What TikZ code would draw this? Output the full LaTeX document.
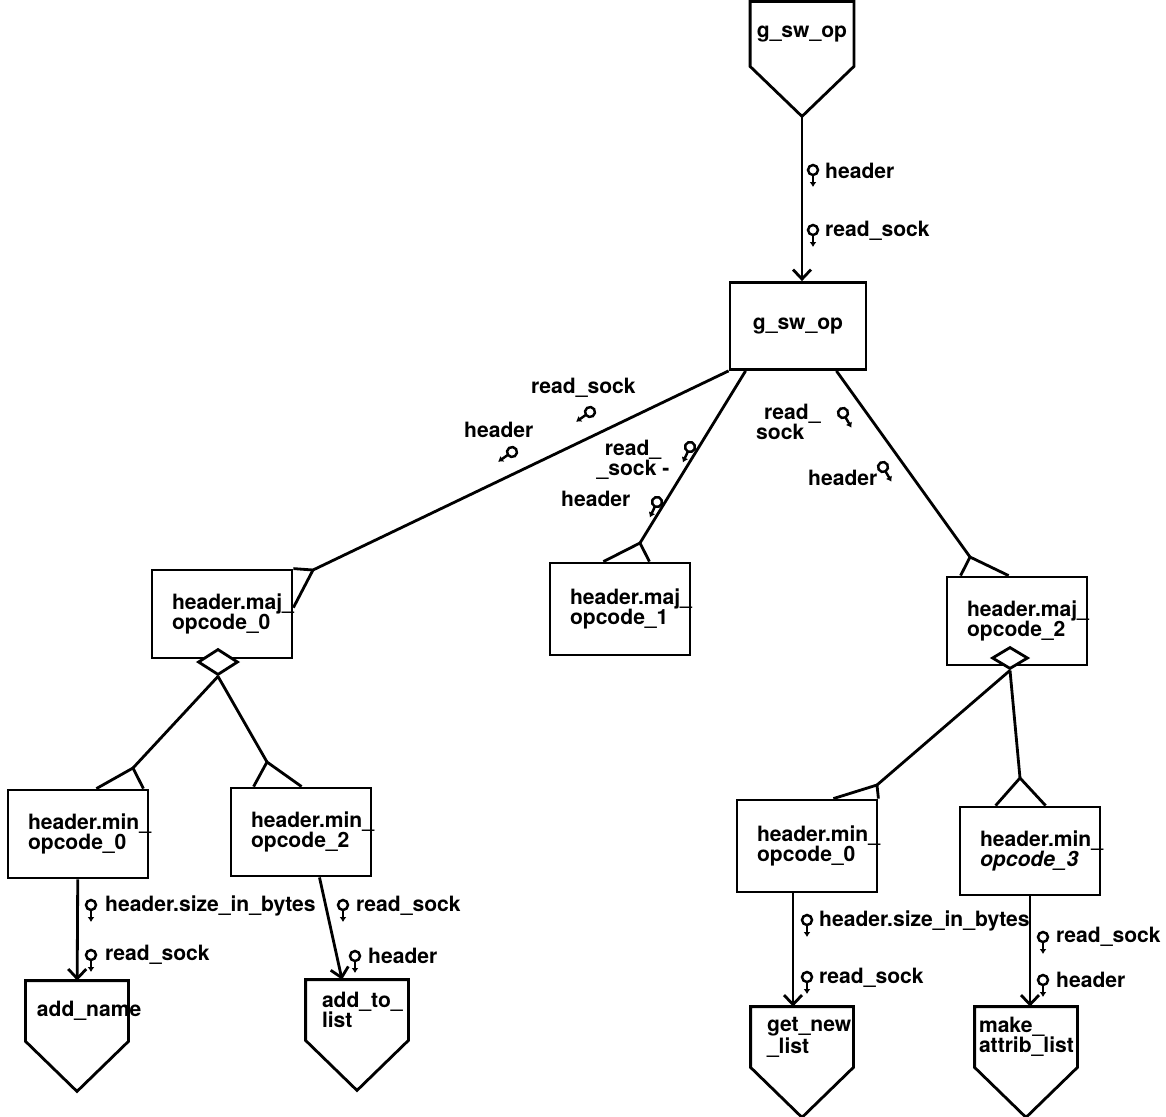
\documentclass[tikz,border=0pt]{standalone}
\usepackage{fontspec}
\setmainfont{TeX Gyre Heros}
\usetikzlibrary{arrows.meta, shapes.geometric, calc}

\tikzset{
  couple/.pic={
    \draw[line width=1.4pt] (0pt,0pt) circle[radius=0.1cm];
    \draw[line width=1.4pt, -{Latex[length=1mm,width=1.4mm]}] (0pt,-0.1cm) -- (0pt,-0.34cm);
  }
}
% off-page connector drawn round a named node
\newcommand{\offpage}[1]{%
  \draw (#1.south west) -- (#1.north west) -- (#1.north east) -- (#1.south east)
        -- ([yshift=-1.0cm]#1.south) coordinate (#1-tip) -- cycle;
}

\begin{document}
\begin{tikzpicture}[
  x=0.2mm, y=-0.2mm,
  line width=1.6pt,
  every node/.style={font=\bfseries\fontsize{12}{11.5}\selectfont},
  modbox/.style={draw, rectangle, minimum height=1.76cm, text width=2.0cm,
                 inner xsep=0.4cm, align=left},
  offpage/.style={rectangle, minimum height=1.16cm, text width=1.6cm,
                  inner xsep=0.2cm, align=left},
  pick/.style={draw, diamond, fill=white, inner sep=0pt, minimum width=0.8cm,
               minimum height=0.52cm},
  flow/.style={-{Straight Barb[length=1.9mm,width=3.6mm]}},
  lbl/.style={anchor=west, inner sep=1pt}
]
\useasboundingbox (0,0) rectangle (1166,1117);

%% Nodes
\node[offpage, minimum height=1.24cm, text width=2.02cm, inner xsep=0pt, align=center] (gswtop) at (802,34) {g\_sw\_op};
\node[draw, minimum width=2.72cm, minimum height=1.74cm] (gbox) at (798,326) {g\_sw\_op};

\node[modbox] (maj0) at (222,614) {header.maj\_\\opcode\_0};
\node[modbox, minimum height=1.84cm] (maj1) at (620,609) {header.maj\_\\opcode\_1};
\node[modbox] (maj2) at (1017,621) {header.maj\_\\opcode\_2};

\node[modbox] (min0)  at (78,834)   {header.min\_\\opcode\_0};
\node[modbox] (min2)  at (301,832)  {header.min\_\\opcode\_2};
\node[modbox, minimum height=1.84cm] (min0r) at (807,846) {header.min\_\\opcode\_0};
\node[modbox] (min3)  at (1030,851) {header.min\_\\\textit{opcode\_3}};

\node[pick] (sel0) at (218,662) {};
\node[pick, minimum width=0.72cm, minimum height=0.44cm] (sel2) at (1010,658) {};

\node[offpage] (addname) at (77,1011) {add\_name};
\node[offpage, text width=1.4cm, inner xsep=0.3cm] (addtolist) at (357,1010) {add\_to\_\\list};
\node[offpage, text width=1.4cm, inner xsep=0.3cm] (getnew) at (802,1037) {get\_new\\\_list};
\node[offpage, text width=1.88cm, inner xsep=0.06cm] (makeattrib) at (1026,1037) {make\_\\attrib\_list};

\offpage{gswtop}
\offpage{addname}
\offpage{addtolist}
\offpage{getnew}
\offpage{makeattrib}

%% Forks
\coordinate (tip0) at (313,570);
\coordinate (tip1) at (640,543);
\coordinate (tip2) at (970,557);
\coordinate (tipa) at (133,768);
\coordinate (tipb) at (267,762);
\coordinate (tipc) at (877,785);
\coordinate (tipd) at (1020,778);

\draw (maj0.north east) -- (tip0) -- ([yshift=-0.78cm]maj0.north east);
\draw ([xshift=-1.76cm]maj1.north east) -- (tip1) -- ([xshift=-0.84cm]maj1.north east);
\draw ([xshift=0.3cm]maj2.north west) -- (tip2) -- ([xshift=1.26cm]maj2.north west);
\draw ([xshift=-1.06cm]min0.north east) -- (tipa) -- ([xshift=-0.12cm]min0.north east);
\draw ([xshift=0.48cm]min2.north west) -- (tipb) -- ([xshift=1.44cm]min2.north west);
\draw ([xshift=-0.9cm]min0r.north east) -- (tipc) -- (min0r.north east);
\draw ([xshift=0.74cm]min3.north west) -- (tipd) -- ([xshift=1.74cm]min3.north west);

%% Arrows
\draw (gbox.south west) -- (tip0);
\draw ([xshift=0.34cm]gbox.south west) -- (tip1);
\draw ([xshift=-0.62cm]gbox.south east) -- (tip2);
\draw (sel0.south) -- (tipa);
\draw (sel0.south) -- (tipb);
\draw (sel2.south) -- (tipc);
\draw (sel2.south) -- (tipd);

\draw[flow] (gswtop-tip) -- (gswtop-tip |- gbox.north);
\draw[flow] (min0) -- (addname);
\draw[flow] ([xshift=0.37cm]min2.south) -- ([xshift=-0.3cm]addtolist.north);
\draw[flow] ([xshift=-0.18cm]getnew.north |- min0r.south) -- ([xshift=-0.18cm]getnew.north);
\draw[flow] (min3.south) -- (min3.south |- makeattrib.north);

%% Couples
\pic at (813,170) {couple}; \node[lbl] (hdtop) at (822,171) {header};
\pic at (813,230) {couple}; \node[lbl] (rstop) at (822,231) {read\_sock};

\pic[rotate=-55] at (590,412) {couple}; \node[lbl] (rs0) at (528,388) {read\_sock};
\pic[rotate=-55] at (512,452) {couple}; \node[lbl] (hd0) at (461,430) {header};
\pic[rotate=-25] at (690,447) {couple}; \node[align=center] (rs1) at (633,460) {read\_\\\_sock -};
\pic[rotate=-25] at (657,502) {couple}; \node[lbl] (hd1) at (558,499) {header};
\pic[rotate=30] at (843,413) {couple}; \node[lbl, align=left] (rs2) at (753,422) {\hspace*{0.16cm}read\_\\sock};
\pic[rotate=30] at (883,467) {couple}; \node[lbl] (hd2) at (805,478) {header};

\pic at (91,905) {couple};  \node[lbl] (sz0) at (102,906) {header.size\_in\_bytes};
\pic at (91,955) {couple};  \node[lbl] (rs3) at (102,955) {read\_sock};
\pic at (343,905) {couple}; \node[lbl] (rs4) at (353,906) {read\_sock};
\pic at (355,956) {couple}; \node[lbl] (hd3) at (365,956) {header};
\pic at (807,920) {couple}; \node[lbl] (sz1) at (816,921) {header.size\_in\_bytes};
\pic at (807,977) {couple}; \node[lbl] (rs5) at (816,978) {read\_sock};
\pic at (1043,937) {couple}; \node[lbl] (rs6) at (1053,937) {read\_sock};
\pic at (1043,980) {couple}; \node[lbl] (hd4) at (1053,980) {header};

\end{tikzpicture}
\end{document}
